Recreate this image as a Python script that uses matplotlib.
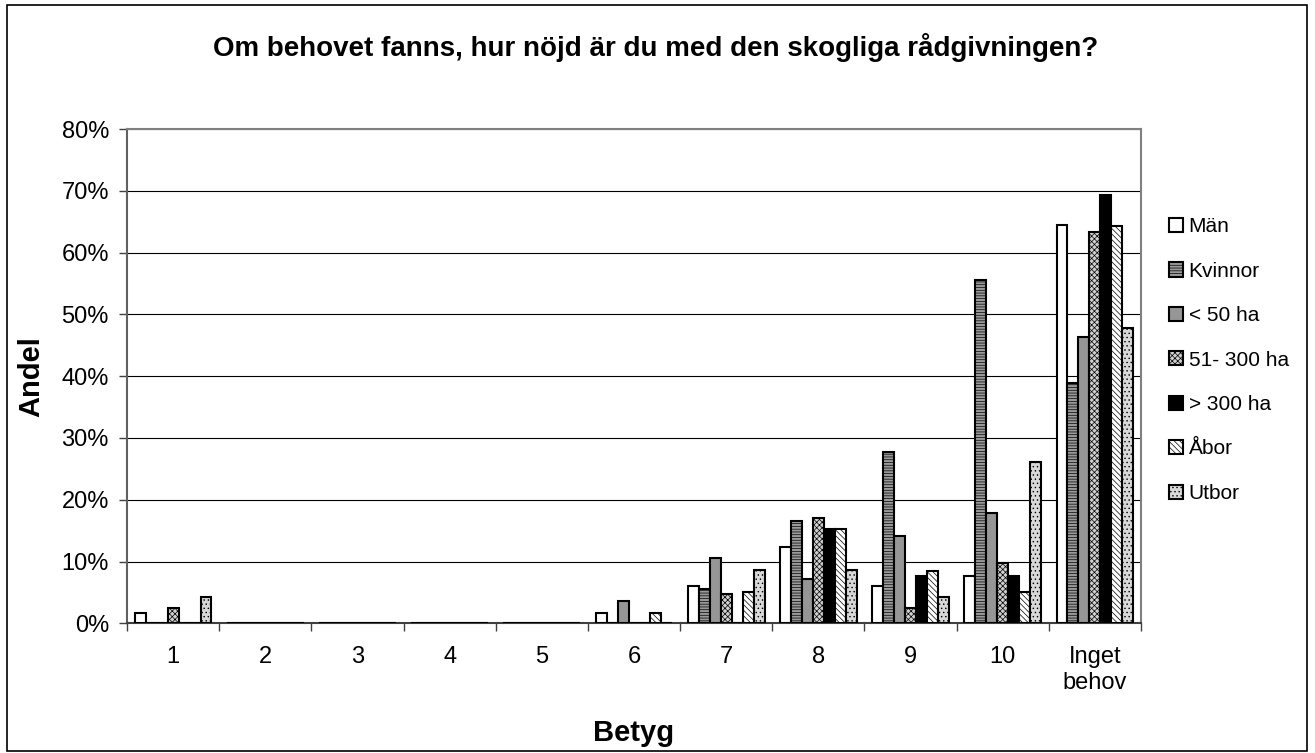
import numpy as np
import matplotlib.pyplot as plt
import matplotlib.ticker as tick
from matplotlib.patches import Rectangle

plt.rcParams['font.family'] = ['Liberation Sans', 'DejaVu Sans']
plt.rcParams['hatch.linewidth'] = 0.5

categories = ["1", "2", "3", "4", "5", "6", "7", "8", "9", "10", "Inget\nbehov"]
series = ["Män", "Kvinnor", "< 50 ha", "51- 300 ha", "> 300 ha", "Åbor", "Utbor"]

man     = [1.6, 0, 0, 0, 0, 1.6, 6.1, 12.3, 6.1, 7.6, 64.5]
kvinnor = [0, 0, 0, 0, 0, 0, 5.5, 16.6, 27.8, 55.6, 38.9]
lt50    = [0, 0, 0, 0, 0, 3.6, 10.6, 7.1, 14.2, 17.8, 46.3]
ha51    = [2.5, 0, 0, 0, 0, 0, 4.8, 17.1, 2.4, 9.7, 63.4]
gt300   = [0, 0, 0, 0, 0, 0, 0, 15.3, 7.7, 7.7, 69.3]
abor    = [0, 0, 0, 0, 0, 1.7, 5.1, 15.2, 8.4, 5.1, 64.3]
utbor   = [4.3, 0, 0, 0, 0, 0, 8.6, 8.6, 4.3, 26.1, 47.8]

values = [man, kvinnor, lt50, ha51, gt300, abor, utbor]
faces = ["white", "#9a9a9a", "#969696", "#d0d0d0", "black", "white", "#d8d8d8"]
hatches = [None, "------", None, "xxxxxx", None, "\\\\\\\\\\\\", "...."]

W, H = 1315, 753
fig = plt.figure(figsize=(W / 100, H / 100), dpi=100)
fig.patches.append(Rectangle((7 / W, 2 / H), 1300 / W, 746 / H, transform=fig.transFigure,
                             fill=False, edgecolor="black", linewidth=1.2))

x0, x1, ytop, ybot = 127, 1141, 129, 623.3
ax = fig.add_axes([x0 / W, (H - ybot) / H, (x1 - x0) / W, (ybot - ytop) / H])

x = np.arange(len(categories))
w = 0.119
for i, (vals, name) in enumerate(zip(values, series)):
    ax.bar(x + (i - 3) * w, vals, width=w, color=faces[i], edgecolor="black",
           linewidth=1.5, hatch=hatches[i], label=name, zorder=3)

ax.set_xlim(-0.5, len(categories) - 0.5)
ax.set_ylim(0, 80)
ax.yaxis.set_major_locator(tick.MultipleLocator(10))
ax.yaxis.set_major_formatter(tick.PercentFormatter(decimals=0))
ax.grid(axis="y", color="black", linewidth=0.8, zorder=0)

ax.set_xticks(x)
ax.set_xticklabels(categories, linespacing=1.25)
ax.xaxis.set_minor_locator(tick.FixedLocator(np.arange(-0.5, len(categories), 1)))
ax.tick_params(axis="x", which="major", length=0, labelsize=17, pad=16)
ax.tick_params(axis="x", which="minor", length=6, width=1, color="#404040")
ax.tick_params(axis="y", length=6, width=1, color="#404040", labelsize=17, pad=7)

for s in ax.spines.values():
    s.set_color("#808080")
    s.set_linewidth(1.5)
ax.spines["left"].set_color("#606060")
ax.spines["bottom"].set_color("#404040")

ax.set_xlabel("Betyg", fontsize=21, fontweight="bold", va="center")
ax.xaxis.set_label_coords(0.5, -(733 - ybot) / (ybot - ytop))
ax.set_ylabel("Andel", fontsize=21, fontweight="bold", va="center")
ax.yaxis.set_label_coords((31 - x0) / (x1 - x0), 0.5)
fig.text(656 / W, 1 - 56.5 / H, "Om behovet fanns, hur nöjd är du med den skogliga rådgivningen?",
         ha="center", va="baseline", fontsize=20, fontweight="bold")

fig.legend(loc="upper left", bbox_to_anchor=(1159 / W, 1 - 207 / H), frameon=False,
           fontsize=15, handlelength=0.67, handleheight=0.67, handletextpad=0.25,
           labelspacing=1.22, borderpad=0)

fig.savefig("out.png", dpi=100)
